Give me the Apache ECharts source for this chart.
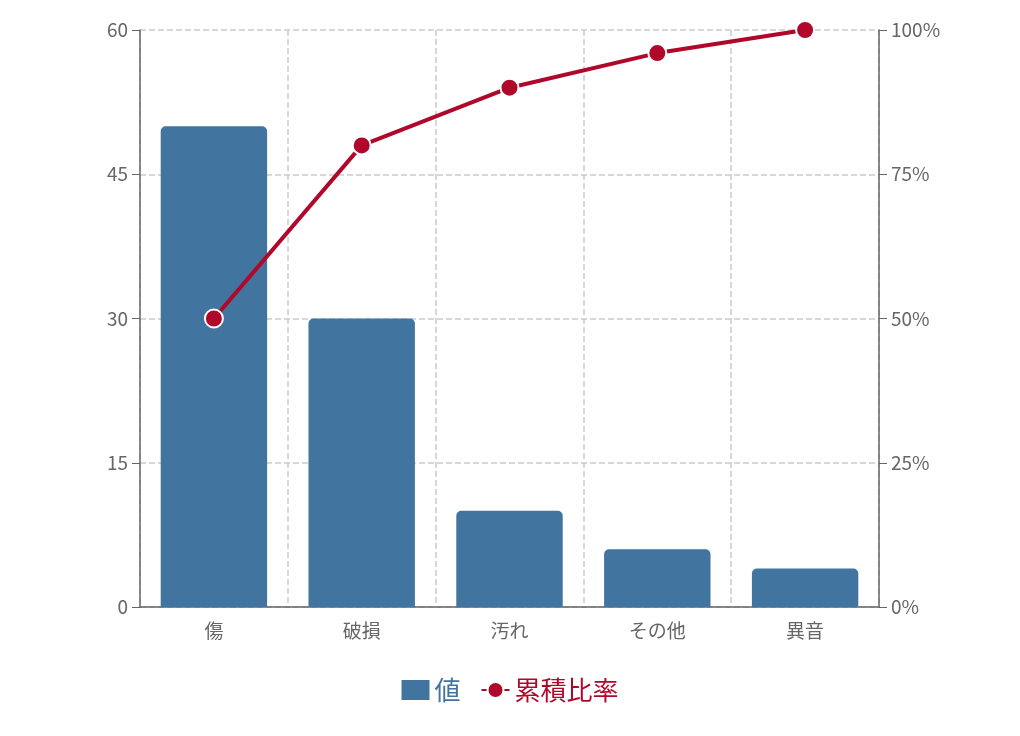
<!DOCTYPE html>
<html>
<head>
<meta charset="utf-8">
<script src="https://cdn.jsdelivr.net/npm/echarts@6/dist/echarts.min.js"></script>
<style>html,body{margin:0;padding:0;background:#fff}#main{width:1020px;height:736px}</style>
</head>
<body>
<div id="main"></div>
<script>
// データ
var categories = ['傷', '破損', '汚れ', 'その他', '異音'];
var values = [50, 30, 10, 6, 4];
var cumulative = [50, 80, 90, 96, 100];
var leftTicks = [0, 15, 30, 45, 60];

var chart = echarts.init(document.getElementById('main'));
var font = 'Noto Sans CJK JP';
var option = {
  animation: false,
  textStyle: { fontFamily: font },
  grid: { left: 140, right: 141, top: 30, bottom: 129 },
  legend: {
    bottom: 28,
    itemGap: 20,
    itemWidth: 28,
    itemHeight: 20,
    textStyle: { fontSize: 26, fontFamily: font },
    data: [
      { name: '値', icon: 'rect', textStyle: { color: '#41749e' } },
      { name: '累積比率', textStyle: { color: '#b0072a' } }
    ]
  },
  xAxis: {
    type: 'category',
    data: categories,
    axisLine: { lineStyle: { color: '#666', width: 1.5 } },
    axisTick: { show: false },
    axisLabel: { color: '#666', fontSize: 19, margin: 14 },
    splitLine: { show: true, lineStyle: { color: '#ccc', type: 'dashed', width: 1.5 } }
  },
  yAxis: [{
    type: 'value', min: leftTicks[0], max: leftTicks[leftTicks.length - 1], interval: 15,
    axisLine: { show: true, lineStyle: { color: '#666', width: 1.5 } },
    axisTick: { show: true, length: 8, lineStyle: { color: '#666' } },
    axisLabel: { color: '#666', fontSize: 19, margin: 12 },
    splitLine: { lineStyle: { color: '#ccc', type: 'dashed', width: 1.5 } }
  }, {
    type: 'value', min: 0, max: 100, interval: 25,
    axisLine: { show: true, lineStyle: { color: '#666', width: 1.5 } },
    axisTick: { show: true, length: 8, lineStyle: { color: '#666' } },
    axisLabel: { color: '#666', fontSize: 19, margin: 12, formatter: '{value}%' },
    splitLine: { show: false }
  }],
  series: [{
    name: '値',
    type: 'bar',
    data: values,
    barWidth: '72%',
    itemStyle: { color: '#41749e', borderRadius: [5, 5, 0, 0] }
  }, {
    name: '累積比率',
    type: 'line',
    yAxisIndex: 1,
    data: cumulative,
    symbol: 'circle',
    symbolSize: 18,
    lineStyle: { color: '#b0072a', width: 4 },
    itemStyle: { color: '#b0072a', borderColor: '#fff', borderWidth: 2 }
  }]
};
chart.setOption(option);
</script>
</body>
</html>
